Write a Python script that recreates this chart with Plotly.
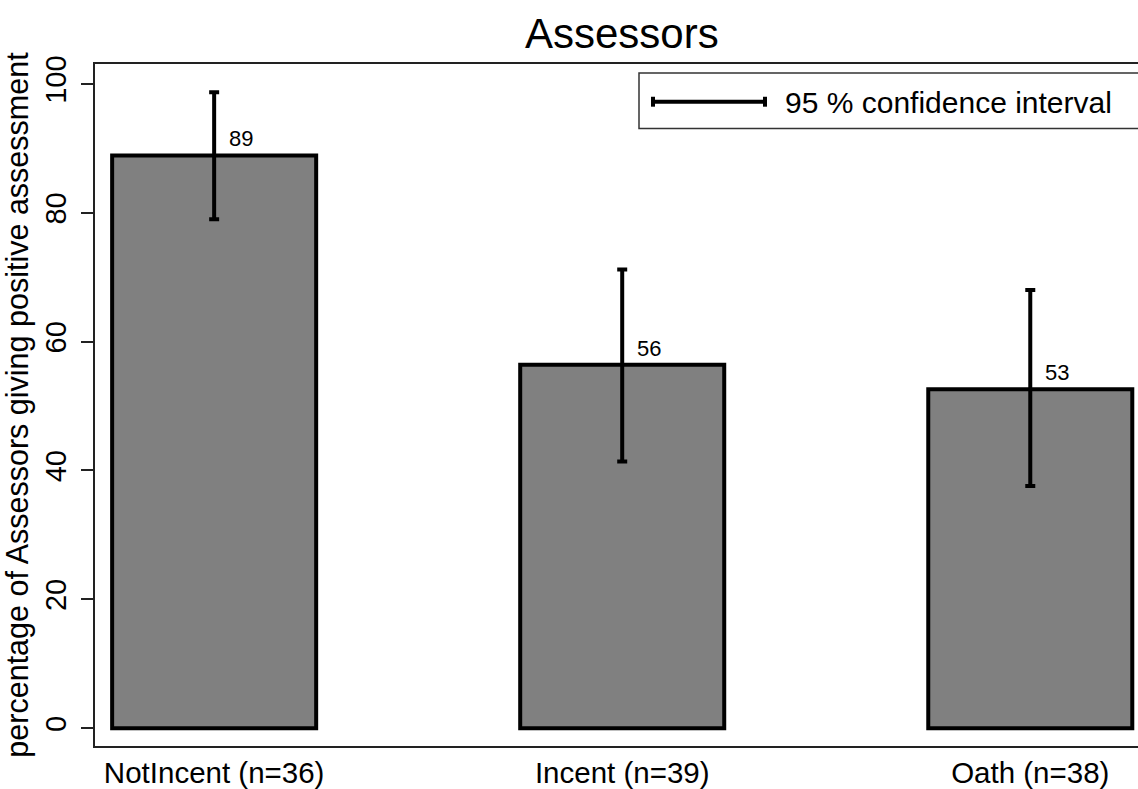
import plotly.graph_objects as go

categories = ["NotIncent (n=36)", "Incent (n=39)", "Oath (n=38)"]
values = [88.9, 56.4, 52.6]
ci_low = [79.0, 41.4, 37.6]
ci_high = [98.7, 71.2, 68.0]
value_labels = ["89", "56", "53"]
y_ticks = [0, 20, 40, 60, 80, 100]

W, H = 1138, 789
ML, MR, MT, MB = 95, 0, 64, 38
FONT = "Liberation Sans, Arial, sans-serif"

err_plus = [h - v for h, v in zip(ci_high, values)]
err_minus = [v - l for l, v in zip(ci_low, values)]

fig = go.Figure()
fig.add_trace(go.Bar(
    x=categories, y=values, width=0.5,
    marker=dict(color="#808080", line=dict(color="black", width=4)),
    error_y=dict(type="data", symmetric=False, array=err_plus, arrayminus=err_minus,
                 color="black", thickness=4, width=5),
    showlegend=False, hoverinfo="skip",
))

annotations = []
for c, v, lab in zip(categories, values, value_labels):
    annotations.append(dict(x=c, y=v, xref="x", yref="y", text=lab, showarrow=False,
                            xanchor="left", yanchor="bottom", xshift=13, yshift=2,
                            font=dict(family=FONT, size=22, color="black")))

pw = W - ML - MR
ph = H - MT - MB
def px(x):
    return (x - ML) / pw
def py(y):
    return (H - MB - y) / ph

annotations.append(dict(x=px(622), y=py(33), xref="paper", yref="paper", text="Assessors",
                        showarrow=False, xanchor="center", yanchor="middle",
                        font=dict(family=FONT, size=42, color="black")))
annotations.append(dict(x=px(783), y=py(103), xref="paper", yref="paper",
                        text="95 % confidence interval", showarrow=False,
                        xanchor="left", yanchor="middle",
                        font=dict(family=FONT, size=30, color="black")))

shapes = [
    dict(type="rect", xref="paper", yref="paper", x0=px(639), x1=px(1160), y0=py(129), y1=py(73),
         line=dict(color="#333333", width=1.5), fillcolor="white", layer="above"),
    dict(type="line", xref="paper", yref="paper", x0=px(652), x1=px(766), y0=py(102), y1=py(102),
         line=dict(color="black", width=4)),
    dict(type="line", xref="paper", yref="paper", x0=px(653), x1=px(653), y0=py(97), y1=py(107),
         line=dict(color="black", width=4)),
    dict(type="line", xref="paper", yref="paper", x0=px(765), x1=px(765), y0=py(97), y1=py(107),
         line=dict(color="black", width=4)),
]

fig.update_layout(
    width=W, height=H, autosize=False,
    margin=dict(l=ML, r=MR, t=MT, b=MB, pad=0),
    paper_bgcolor="white", plot_bgcolor="white",
    font=dict(family=FONT, color="black"),
    annotations=annotations, shapes=shapes,
    xaxis=dict(range=[-0.292, 2.264], showgrid=False, zeroline=False,
               showline=True, linecolor="#222222", linewidth=2, mirror=True,
               ticks="", tickfont=dict(size=29.5, family=FONT, color="black")),
    yaxis=dict(range=[-2.77, 103.1], tickvals=y_ticks, showgrid=False, zeroline=False,
               showline=True, linecolor="#222222", linewidth=2,
               ticks="outside", ticklen=12, tickwidth=1.5, tickcolor="#222222",
               tickangle=-90, tickfont=dict(size=29, family=FONT, color="black"),
               ticklabelstandoff=3,
               title=dict(text="percentage of Assessors giving positive assessment",
                          font=dict(size=30.5, family=FONT, color="black"), standoff=3)),
)

fig.write_html("out.html",
               config=dict(displayModeBar=False, responsive=False),
               post_script="document.body.style.margin='0';document.documentElement.style.overflow='hidden';document.body.style.overflow='hidden';")
